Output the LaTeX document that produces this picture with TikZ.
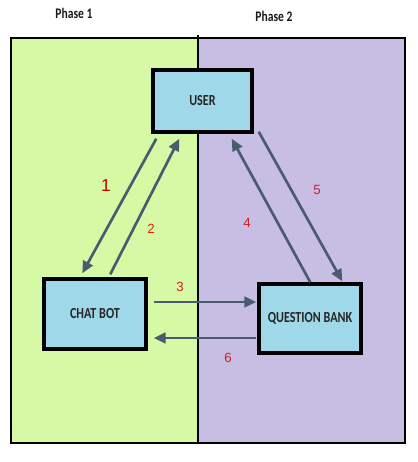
\documentclass[tikz,border=0pt]{standalone}
\usepackage{fontspec}
\setmainfont{Carlito}
\newfontfamily\narrowfont[FakeStretch=0.79]{Carlito}
\newfontfamily\numfont{Liberation Sans}
\usetikzlibrary{arrows.meta}

\definecolor{phaseone}{HTML}{D6F9A6}
\definecolor{phasetwo}{HTML}{C8BDE3}
\definecolor{boxblue}{HTML}{9FD9E9}
\definecolor{flowgray}{HTML}{4B5B6E}
\definecolor{steplabel}{HTML}{CC1F2E}

\tikzset{
  block/.style={draw=black, line width=2.6pt, fill=boxblue, font=\narrowfont\bfseries\fontsize{11.5}{13}\selectfont,
    text=black!85, inner sep=0pt},
  phase/.style={font=\narrowfont\bfseries\fontsize{11}{13}\selectfont, text=black!90},
  flow/.style={draw=flowgray, line width=2pt, -{Triangle[length=9pt,width=8pt]}},
  num/.style={font=\numfont\fontsize{10}{12}\selectfont, text=steplabel}
}

\begin{document}
\begin{tikzpicture}[x=0.75pt,y=-0.75pt]
\useasboundingbox (0,0) rectangle (418,462);
% two phases
\fill[phaseone] (11,38) rectangle (198,443);
\fill[phasetwo] (198,38) rectangle (405,443);
\draw[line width=2pt] (11,38) rectangle (405,443);
\draw[line width=1.6pt] (198,35) -- (198,443);
\node[phase] (ph1) at (74,13) {Phase 1};
\node[phase] (ph2) at (274,16) {Phase 2};

% boxes
\node[block, minimum width=74.25pt, minimum height=46.5pt] (user) at (202.5,101) {USER};
\node[block, minimum width=76.5pt, minimum height=52.5pt] (bot) at (95,314) {CHAT BOT};
\node[block, minimum width=76.5pt, minimum height=51.75pt] (bank) at (310,318.5) {QUESTION BANK};

% user <-> chat bot
\draw[flow] ([shift={(5,5)}]user.south west) -- ([shift={(40,-4)}]bot.north west);
\draw[flow] ([shift={(68,-3)}]bot.north west) -- ([shift={(28,5)}]user.south west);
% user <-> question bank
\draw[flow] ([shift={(53,0)}]bank.north west) -- ([shift={(-22,5)}]user.south east);
\draw[flow] ([shift={(5,-2)}]user.south east) -- ([shift={(85,-1)}]bank.north west);
% chat bot <-> question bank
\draw[flow] ([shift={(6,-12)}]bot.east) -- ([shift={(-1,-16.5)}]bank.west);
\draw[flow] ([shift={(-1,19.5)}]bank.west) -- ([shift={(6,24)}]bot.east);

% step numbers
\node[num, font=\numfont\fontsize{13}{15}\selectfont, text=red!75!black] (n1) at (106,186) {1};
\node[num, text=red!80!orange] (n2) at (151,229) {2};
\node[num] (n3) at (180,287) {3};
\node[num] (n4) at (247,223) {4};
\node[num] (n5) at (317,190) {5};
\node[num] (n6) at (228,358) {6};
\end{tikzpicture}
\end{document}
